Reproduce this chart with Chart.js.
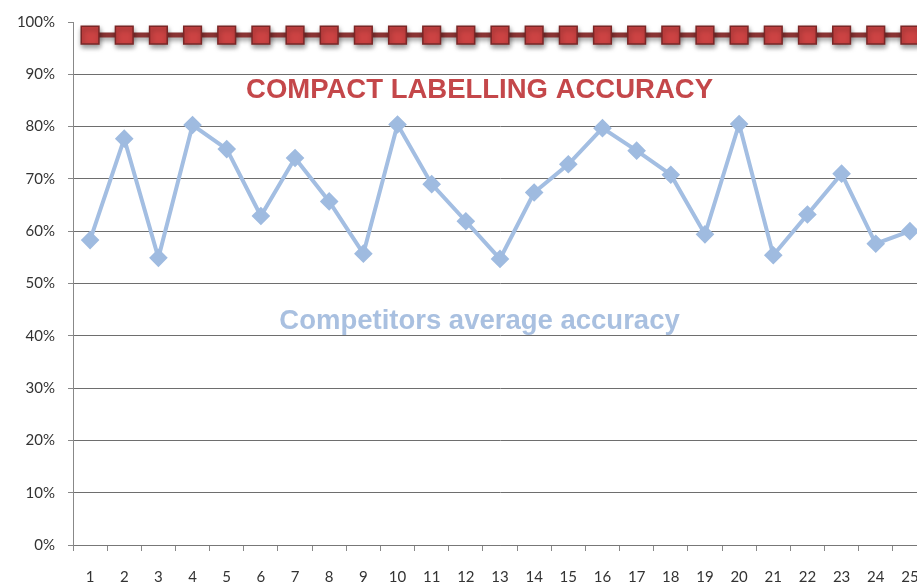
<!DOCTYPE html>
<html>
<head>
<meta charset="utf-8">
<script src="https://cdn.jsdelivr.net/npm/chart.js@4"></script>
<style>
    html, body { margin: 0; padding: 0; background: #fff; overflow: hidden; }
    canvas { display: block; }
</style>
</head>
<body>
<canvas id="chart" width="941" height="586" style="width:941px;height:586px"></canvas>
<script>
const labels = ['1','2','3','4','5','6','7','8','9','10','11','12','13','14','15','16','17','18','19','20','21','22','23','24','25'];
const compactAccuracy = [97.5,97.5,97.5,97.5,97.5,97.5,97.5,97.5,97.5,97.5,97.5,97.5,97.5,97.5,97.5,97.5,97.5,97.5,97.5,97.5,97.5,97.5,97.5,97.5,97.5];
const competitorsAccuracy = [58.3,77.7,54.9,80.3,75.7,62.9,74.0,65.7,55.7,80.4,69.0,61.9,54.7,67.4,72.8,79.7,75.4,70.8,59.4,80.5,55.4,63.2,71.0,57.6,60.0];
const yTicks = [0,10,20,30,40,50,60,70,80,90,100];

const seriesNotes = [
    { text: 'COMPACT LABELLING ACCURACY', color: '#c4474a', x: 11.4, y: 87 },
    { text: 'Competitors average accuracy', color: '#a9c0e0', x: 11.4, y: 42.7 }
];

// shadow under the red series, like the office chart
const shadowPlugin = {
    id: 'redShadow',
    beforeDatasetDraw(chart, args) {
        if (args.index !== 0) return;
        const ctx = chart.ctx;
        ctx.save();
        ctx.shadowColor = 'rgba(0,0,0,0.4)';
        ctx.shadowBlur = 5;
        ctx.shadowOffsetX = 1;
        ctx.shadowOffsetY = 3;
    },
    afterDatasetDraw(chart, args) {
        if (args.index !== 0) return;
        chart.ctx.restore();
    }
};

const notesPlugin = {
    id: 'seriesNotes',
    afterDatasetsDraw(chart) {
        const ctx = chart.ctx;
        const xs = chart.scales.x, ys = chart.scales.y;
        ctx.save();
        ctx.font = 'bold 27.5px "Liberation Sans", Arial, sans-serif';
        ctx.textAlign = 'center';
        ctx.textBaseline = 'middle';
        seriesNotes.forEach(n => {
            ctx.fillStyle = n.color;
            ctx.fillText(n.text, xs.getPixelForValue(n.x), ys.getPixelForValue(n.y));
        });
        ctx.restore();
    }
};

new Chart(document.getElementById('chart'), {
    type: 'line',
    data: {
        labels: labels,
        datasets: [
            {
                label: 'Compact labelling accuracy',
                data: compactAccuracy,
                borderColor: '#8a3434',
                borderWidth: 5,
                pointStyle: 'rect',
                pointRadius: 12.5,
                pointBackgroundColor: '#cc4343',
                pointBorderColor: '#7a2626',
                pointBorderWidth: 1.5,
                tension: 0
            },
            {
                label: 'Competitors average accuracy',
                data: competitorsAccuracy,
                borderColor: '#a3bee2',
                borderWidth: 4,
                pointStyle: 'rectRot',
                pointRadius: 6.5,
                pointBackgroundColor: '#9fbbe0',
                pointBorderColor: '#9fbbe0',
                tension: 0
            }
        ]
    },
    options: {
        responsive: false,
        maintainAspectRatio: false,
        animation: false,
        layout: { padding: { top: 19, right: 5, left: 0, bottom: 0 } },
        plugins: {
            legend: { display: false },
            tooltip: { enabled: false }
        },
        scales: {
            x: {
                offset: true,
                afterFit: s => { s.height = 41; },
                border: { color: '#777', width: 1 },
                grid: {
                    offset: true,
                    drawOnChartArea: false,
                    drawTicks: true,
                    tickLength: 6,
                    color: '#888'
                },
                ticks: {
                    padding: 17,
                    color: '#333',
                    maxRotation: 0,
                    autoSkip: false,
                    font: { size: 15, family: 'Lato' }
                }
            },
            y: {
                min: 0,
                max: 100,
                afterFit: s => { s.width = 73; },
                afterBuildTicks: s => { s.ticks = yTicks.map(v => ({ value: v })); },
                border: { color: '#888', width: 1 },
                grid: {
                    color: ctx => ctx.tick && ctx.tick.value === 100 ? 'rgba(0,0,0,0)' : '#6e6e6e',
                    tickColor: '#888',
                    tickLength: 5
                },
                ticks: {
                    padding: 13,
                    color: '#333',
                    font: { size: 15, family: 'Lato' },
                    callback: v => v + '%'
                }
            }
        }
    },
    plugins: [shadowPlugin, notesPlugin]
});
</script>
</body>
</html>
